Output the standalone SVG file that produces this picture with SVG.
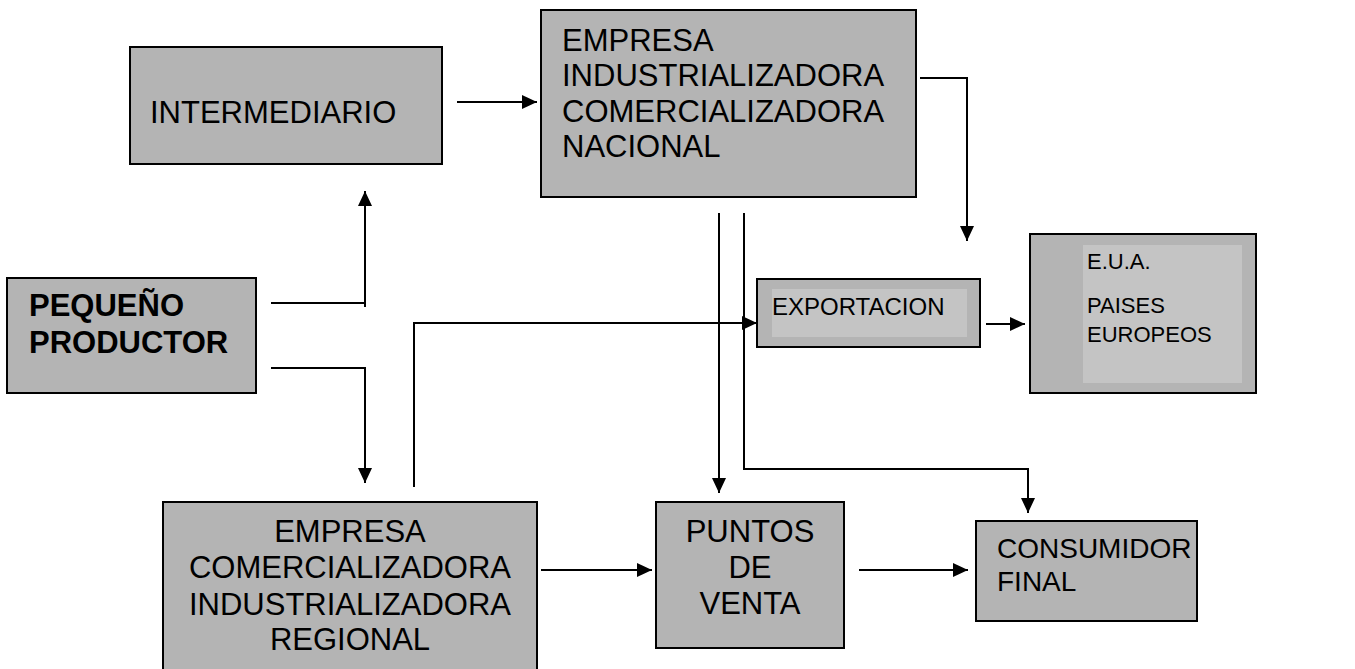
<svg xmlns="http://www.w3.org/2000/svg" width="1355" height="669" viewBox="0 0 1355 669">
<style>
.box{fill:#b4b4b4;stroke:#000;stroke-width:2}
.inner{fill:#c4c4c4;stroke:none}
.t{font-family:"Liberation Sans",Arial,sans-serif;font-size:31px;fill:#000}
.b{font-weight:bold}
.s24{font-size:24px}
.s22{font-size:22px}
.s28{font-size:28px}
.c{text-anchor:middle}
.ln{fill:none;stroke:#000;stroke-width:2}
</style>
<defs>
<marker id="ah" markerUnits="userSpaceOnUse" markerWidth="16" markerHeight="14" refX="15" refY="7" orient="auto">
<path d="M0,0 L15,7 L0,14 z" fill="#000"/>
</marker>
</defs>
<rect width="1355" height="669" fill="#fff"/>
<g id="connectors">
<path class="ln" d="M457,102 H537" marker-end="url(#ah)"/>
<path class="ln" d="M271,303 H365"/>
<path class="ln" d="M365,307 V191" marker-end="url(#ah)"/>
<path class="ln" d="M271,368 H365 V483" marker-end="url(#ah)"/>
<path class="ln" d="M414,487 V323 H757" marker-end="url(#ah)"/>
<path class="ln" d="M920,78 H967 V241" marker-end="url(#ah)"/>
<path class="ln" d="M719,213 V493" marker-end="url(#ah)"/>
<path class="ln" d="M744,213 V469 H1028 V513" marker-end="url(#ah)"/>
<path class="ln" d="M541,570 H652" marker-end="url(#ah)"/>
<path class="ln" d="M859,570 H968" marker-end="url(#ah)"/>
<path class="ln" d="M986,324 H1025" marker-end="url(#ah)"/>
</g>
<g id="intermediario">
<rect class="box" x="130" y="47" width="312" height="117"/>
<text class="t" x="150" y="123">INTERMEDIARIO</text>
</g>
<g id="empresa-nacional">
<rect class="box" x="541" y="10" width="375" height="187"/>
<text class="t" x="562" y="50.5">EMPRESA</text>
<text class="t" x="562" y="86">INDUSTRIALIZADORA</text>
<text class="t" x="562" y="121.5">COMERCIALIZADORA</text>
<text class="t" x="562" y="157">NACIONAL</text>
</g>
<g id="pequeno-productor">
<rect class="box" x="7" y="278" width="249" height="115"/>
<text class="t b" x="29" y="316">PEQUEÑO</text>
<text class="t b" x="29" y="353">PRODUCTOR</text>
</g>
<g id="exportacion">
<rect class="box" x="757" y="279" width="223" height="68"/>
<rect class="inner" x="772" y="289" width="195" height="48"/>
<text class="t s24" x="772" y="315">EXPORTACION</text>
</g>
<g id="destinos">
<rect class="box" x="1030" y="234" width="226" height="159"/>
<rect class="inner" x="1083" y="245" width="159" height="138"/>
<text class="t s22" x="1087" y="269">E.U.A.</text>
<text class="t s22" x="1087" y="313">PAISES</text>
<text class="t s22" x="1087" y="342">EUROPEOS</text>
</g>
<g id="empresa-regional">
<rect class="box" x="163" y="502" width="374" height="190"/>
<text class="t c" x="350" y="542">EMPRESA</text>
<text class="t c" x="350" y="578">COMERCIALIZADORA</text>
<text class="t c" x="350" y="615">INDUSTRIALIZADORA</text>
<text class="t c" x="350" y="650">REGIONAL</text>
</g>
<g id="puntos-venta">
<rect class="box" x="656" y="502" width="188" height="146"/>
<text class="t c" x="750" y="542">PUNTOS</text>
<text class="t c" x="750" y="578">DE</text>
<text class="t c" x="750" y="614">VENTA</text>
</g>
<g id="consumidor-final">
<rect class="box" x="976" y="521" width="221" height="100"/>
<text class="t s28" x="997" y="558">CONSUMIDOR</text>
<text class="t s28" x="997" y="591">FINAL</text>
</g>
</svg>
